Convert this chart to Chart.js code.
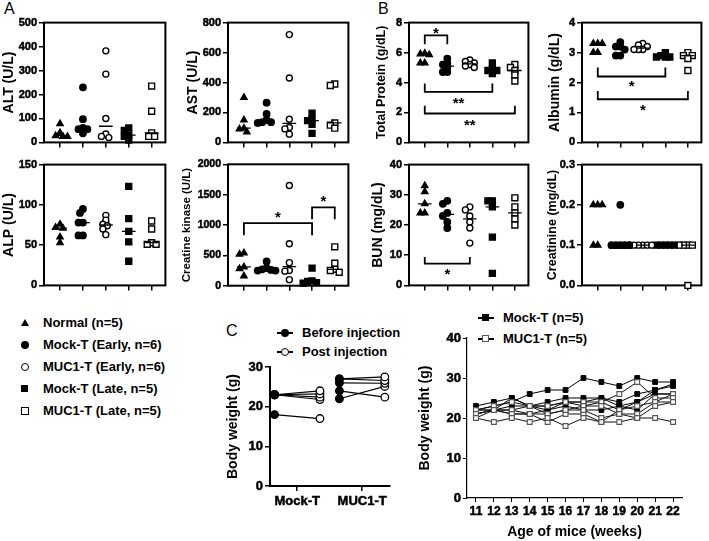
<!DOCTYPE html>
<html>
<head>
<meta charset="utf-8">
<script src="https://cdn.jsdelivr.net/npm/chart.js@4.4.1/dist/chart.umd.min.js"></script>
<style>
  body { margin: 0; background: #fff; font-family: 'Liberation Sans', Arial, sans-serif; }
  #page { position: relative; width: 709px; height: 541px; overflow: hidden; background: #fff; }
  canvas { position: absolute; }
  .tag { position: absolute; font-size: 16px; color: #000; }
  .leg { position: absolute; font-weight: bold; font-size: 13px; white-space: nowrap; line-height: 16px; color: #000; }
  .sym { position: absolute; box-sizing: border-box; }
  .ln { position: absolute; height: 2px; background: #000; }
</style>
</head>
<body>
<div id="page">
  <div class="tag" style="left:4px;top:0px">A</div>
  <div class="tag" style="left:378px;top:0px">B</div>
  <div class="tag" style="left:226px;top:322px">C</div>
</div>
<script>
Chart.defaults.font.family = 'Liberation Sans, Arial, sans-serif';
Chart.defaults.font.weight = 'bold';
Chart.defaults.color = '#000';

// groups used in panels A and B
const groups = ['Normal (n=5)', 'Mock-T (Early, n=6)', 'MUC1-T (Early, n=6)', 'Mock-T (Late, n=5)', 'MUC1-T (Late, n=5)'];

const alt = [[78, 40, 25, 25, 28], [230, 97, 60, 55, 55, 38], [382, 285, 100, 35, 20, 25], [60, 50, 30, 25, 10], [235, 130, 40, 25, 25]];
const ast = [[300, 150, 95, 90, 70], [265, 190, 150, 135, 135, 130], [720, 430, 155, 100, 90, 55], [195, 155, 145, 120, 60], [390, 380, 130, 115, 95]];
const totalProtein = [[5.95, 5.9, 5.85, 5.3, 5.3], [5.6, 5.3, 5.2, 5.0, 4.7, 4.7], [5.5, 5.4, 5.3, 5.2, 5.1, 5.0], [5.3, 4.9, 4.8, 4.8, 4.6], [5.2, 5.0, 4.8, 4.5, 4.1]];
const albumin = [[3.3, 3.3, 3.3, 3.0, 3.0], [3.35, 3.2, 3.2, 3.1, 2.9, 2.9], [3.3, 3.25, 3.2, 3.1, 3.1, 3.1], [3.0, 2.9, 2.85, 2.85, 2.85], [3.0, 2.9, 2.9, 2.8, 2.4]];
const alp = [[76, 72, 71, 60, 53], [95, 90, 78, 78, 62, 62], [87, 81, 76, 74, 70, 63], [123, 83, 67, 54, 30], [80, 70, 53, 51, 51]];
const creatineKinase = [[540, 520, 310, 280, 160], [400, 290, 270, 260, 250, 250], [1650, 690, 380, 250, 240, 100], [290, 80, 70, 50, 40], [640, 370, 270, 250, 220]];
const bun = [[33, 31, 27, 24, 24], [28, 27, 24, 23, 21, 19], [26, 25, 23, 21, 19, 14], [28, 28, 26, 16, 4], [29, 26, 24, 22, 20]];
const creatinine = [[0.2, 0.2, 0.2, 0.1, 0.1], [0.2, 0.1, 0.1, 0.1, 0.1, 0.1], [0.1, 0.1, 0.1, 0.1, 0.1, 0.1], [0.1, 0.1, 0.1, 0.1, 0.1], [0.1, 0.1, 0.1, 0.1, 0.0]];

// significance brackets: groups joined, bar level, end of the ticks, label and its level
const tpSig = [
  { from: 1, to: 2, y: 7.15, tick: 6.55, text: '*', ty: 7.45 },
  { from: 1, to: 4, y: 3.38, tick: 3.93, text: '**', ty: 2.75 },
  { from: 1, to: 5, y: 1.93, tick: 2.45, text: '**', ty: 1.3 }
];
const albSig = [
  { from: 1, to: 4, y: 2.2, tick: 2.5, text: '*', ty: 1.95 },
  { from: 1, to: 5, y: 1.44, tick: 1.72, text: '*', ty: 1.15 }
];
const ckSig = [
  { from: 1, to: 4, y: 1030, tick: 830, text: '*', ty: 1160 },
  { from: 4, to: 5, y: 1290, tick: 1095, text: '*', ty: 1430 }
];
const bunSig = [
  { from: 1, to: 3, y: 7.2, tick: 9.4, text: '*', ty: 4.4 }
];

// panel C, left: body weight before and after injection
const pairGroups = ['Mock-T', 'MUC1-T'];
const mockBefore = [23, 23, 23, 23, 18];
const mockAfter = [24, 23.2, 22.4, 21.8, 17];
const mucBefore = [27, 27, 26, 24, 22];
const mucAfter = [27.5, 26.6, 25.9, 22.4, 25.1];

// panel C, right: body weight by week
const weeks = [11, 12, 13, 14, 15, 16, 17, 18, 19, 20, 21, 22];
const mockWeight = [
  [22, 23, 24, 26, 27, 27, 30, 29, 28, 30, 29, 29],
  [23, 24, 25, 23, 24, 25, 25, 25, 24, 26, 27, 28],
  [22, 22, 25, 23, 23, 24, 24, 25, 23, 24, 27, 28.5],
  [21, 22, 23, 23, 22, 24, 23, 24, 22, 24, 26, 26],
  [21, 22, 22, 21, 22, 23, 22, 22, 23, 22, 26, 26]
];
const mucWeight = [
  [20, 19, 20, 19, 20, 18, 20, 19, 19, 20, 20, 19],
  [20, 22, 21, 21, 21, 22, 22, 20, 21, 20, 23, 24],
  [21, 22, 22, 23, 21, 22, 23, 23, 21, 21, 24, 24],
  [22, 23, 24, 23, 23, 24, 24, 24, 26, 29, 25, 25],
  [22, 22, 21, 21, 19, 21, 21, 19, 22, 23, 24, 26]
];

const page = document.getElementById('page');
const X_MIN = 0.3, X_MAX = 5.6;
const marks = [
  { style: 'triangle', fill: '#000', r: 3.6 },
  { style: 'circle', fill: '#000', r: 3.2 },
  { style: 'circle', fill: '#fff', r: 3.0 },
  { style: 'rect', fill: '#000', r: 4.2 },
  { style: 'rect', fill: '#fff', r: 4.2 }
];
const bold = (size) => ({ size: size, weight: 'bold' });
// a thin stroke makes the small bold tick labels as heavy as in the figure
const heavy = { textStrokeColor: '#000', textStrokeWidth: 0.5 };

function addCanvas(left, top, w, h) {
  const c = document.createElement('canvas');
  c.width = w; c.height = h;
  c.style.left = left + 'px'; c.style.top = top + 'px';
  c.style.width = w + 'px'; c.style.height = h + 'px';
  page.appendChild(c);
  return c.getContext('2d');
}

function median(vals) {
  const s = vals.slice().sort((a, b) => a - b);
  const n = s.length;
  return n % 2 ? s[(n - 1) / 2] : (s[n / 2 - 1] + s[n / 2]) / 2;
}

// simple beeswarm so equal values sit side by side
function swarm(vals, cat, pxX, pxY) {
  const order = vals.map((v, i) => i).sort((a, b) => vals[b] - vals[a]);
  const placed = [];
  const out = [];
  order.forEach(i => {
    const v = vals[i];
    for (let k = 0; k < 60; k++) {
      const off = (k % 2 ? -1 : 1) * Math.ceil(k / 2) * 1.5;
      const ok = placed.every(p => Math.hypot(p.dx - off, (p.v - v) * pxY) >= 4.5);
      if (ok) {
        placed.push({ dx: off, v: v });
        out[i] = { x: cat + off / pxX, y: v };
        break;
      }
    }
  });
  return out;
}

const tickGrid = { drawOnChartArea: false, tickLength: 5, color: '#000', lineWidth: 1.5 };

function groupPanel(p) {
  const T = 8, R = 4, B = 8;
  const w = p.box.r - p.box.l, h = p.box.b - p.box.t;
  const ctx = addCanvas(p.box.l - p.L, p.box.t - T, p.L + w + R, T + h + B);
  const pxX = w / (X_MAX - X_MIN), pxY = h / p.max;
  const datasets = [];
  p.values.forEach((vals, g) => {
    const m = marks[g];
    const md = median(vals);
    datasets.push({
      data: [{ x: g + 1 - 0.3, y: md }, { x: g + 1 + 0.3, y: md }],
      showLine: true, pointRadius: 0, borderColor: '#000', borderWidth: 1.3
    });
    datasets.push({
      data: swarm(vals, g + 1, pxX, pxY),
      pointStyle: m.style, pointRadius: m.r, pointBackgroundColor: m.fill,
      pointBorderColor: '#000', pointBorderWidth: 1.4, clip: false
    });
  });
  const sig = p.sig || [];
  sig.forEach(k => datasets.push({
    data: [{ x: k.from, y: k.tick }, { x: k.from, y: k.y }, { x: k.to, y: k.y }, { x: k.to, y: k.tick }],
    showLine: true, pointRadius: 0, borderColor: '#000', borderWidth: 1.8, clip: false
  }));
  new Chart(ctx, {
    type: 'scatter',
    data: { datasets: datasets },
    options: {
      responsive: false, animation: false,
      layout: { padding: { top: T, right: R, left: 0, bottom: 0 } },
      plugins: { legend: { display: false }, tooltip: { enabled: false } },
      scales: {
        x: {
          type: 'linear', min: X_MIN, max: X_MAX,
          afterBuildTicks: s => { s.ticks = [1, 2, 3, 4, 5].map(v => ({ value: v })); },
          afterFit: s => { s.height = B; },
          ticks: { display: false },
          grid: tickGrid,
          border: { display: false }
        },
        y: {
          min: 0, max: p.max,
          afterFit: s => { s.width = p.L; },
          ticks: Object.assign({ stepSize: p.step, font: bold(p.tickSize || 11), padding: 2, color: '#000',
                   callback: v => p.fmt ? v.toFixed(p.fmt) : v }, heavy),
          title: { display: true, text: p.title, font: bold(p.titleSize), padding: 0, color: '#000' },
          grid: tickGrid,
          border: { display: false }
        }
      }
    },
    plugins: [{
      id: 'frame',
      beforeDatasetsDraw(ch) {
        const a = ch.chartArea, c = ch.ctx;
        c.save(); c.strokeStyle = '#000'; c.lineWidth = 2;
        c.strokeRect(a.left, a.top, a.right - a.left, a.bottom - a.top);
        c.restore();
      },
      afterDatasetsDraw(ch) {
        const c = ch.ctx;
        c.save(); c.fillStyle = '#000'; c.font = 'bold 15px Liberation Sans, Arial, sans-serif';
        c.textAlign = 'center'; c.textBaseline = 'middle';
        sig.forEach(k => {
          c.fillText(k.text, ch.scales.x.getPixelForValue((k.from + k.to) / 2), ch.scales.y.getPixelForValue(k.ty) + 3);
        });
        c.restore();
      }
    }]
  });
}

groupPanel({ values: alt, title: 'ALT (U/L)', max: 500, step: 100, box: { l: 44, r: 167, t: 22, b: 143 }, L: 43, titleSize: 14 });
groupPanel({ values: ast, title: 'AST (U/L)', max: 800, step: 200, box: { l: 228, r: 350, t: 22, b: 143 }, L: 43, titleSize: 14 });
groupPanel({ values: totalProtein, title: 'Total Protein (g/dL)', max: 8, step: 2, box: { l: 409, r: 530, t: 22, b: 143 }, L: 35, titleSize: 12.5, sig: tpSig });
groupPanel({ values: albumin, title: 'Albumin (g/dL)', max: 4, step: 1, box: { l: 582, r: 703, t: 22, b: 143 }, L: 35, titleSize: 14, sig: albSig });
groupPanel({ values: alp, title: 'ALP (U/L)', max: 150, step: 50, box: { l: 44, r: 167, t: 164, b: 286 }, L: 43, titleSize: 14 });
groupPanel({ values: creatineKinase, title: 'Creatine kinase (U/L)', max: 2000, step: 500, box: { l: 228, r: 350, t: 164, b: 286 }, L: 48, titleSize: 11.5, tickSize: 10.5, sig: ckSig });
groupPanel({ values: bun, title: 'BUN (mg/dL)', max: 40, step: 10, box: { l: 409, r: 530, t: 164, b: 286 }, L: 39, titleSize: 14, sig: bunSig });
groupPanel({ values: creatinine, title: 'Creatinine (mg/dL)', max: 0.3, step: 0.1, box: { l: 582, r: 703, t: 164, b: 286 }, L: 37, titleSize: 12.5, fmt: 1 });

// legend for panels A and B
const legSyms = [
  'width:0;height:0;border-left:4px solid transparent;border-right:4px solid transparent;border-bottom:7px solid #000;',
  'width:8px;height:8px;border-radius:50%;background:#000;',
  'width:8px;height:8px;border-radius:50%;border:1.8px solid #000;background:#fff;',
  'width:7px;height:7px;background:#000;',
  'width:8px;height:8px;border:1.8px solid #000;background:#fff;'
];
groups.forEach((g, i) => {
  const cy = 323 + i * 22;
  const s = document.createElement('div');
  s.className = 'sym';
  s.style.cssText = legSyms[i] + 'left:21px;top:' + (cy - 4) + 'px;';
  page.appendChild(s);
  const t = document.createElement('div');
  t.className = 'leg';
  t.style.left = '43px'; t.style.top = (cy - 8) + 'px';
  t.textContent = g;
  page.appendChild(t);
});

function lineLegend(x, cy, label, markerCss) {
  const l = document.createElement('div');
  l.className = 'ln';
  l.style.left = x + 'px'; l.style.top = (cy - 1) + 'px'; l.style.width = '16px';
  page.appendChild(l);
  const s = document.createElement('div');
  s.className = 'sym';
  s.style.cssText = markerCss + 'left:' + (x + 4) + 'px;top:' + (cy - 4) + 'px;';
  page.appendChild(s);
  const t = document.createElement('div');
  t.className = 'leg';
  t.style.left = (x + 25) + 'px'; t.style.top = (cy - 8) + 'px';
  t.textContent = label;
  page.appendChild(t);
}
lineLegend(277, 333, 'Before injection', 'width:8px;height:8px;border-radius:50%;background:#000;');
lineLegend(277, 352, 'Post injection', 'width:8px;height:8px;border-radius:50%;border:1.5px solid #000;background:#fff;');
lineLegend(478, 318, 'Mock-T (n=5)', 'width:7px;height:7px;background:#000;');
lineLegend(478, 339, 'MUC1-T (n=5)', 'width:7px;height:7px;border:1.5px solid #555;background:#fff;');

// panel C left: paired body weight
(function () {
  const box = { l: 270, r: 390, t: 367, b: 486 };
  const L = 45, T = 10, R = 24, B = 32;
  const ctx = addCanvas(box.l - L, box.t - T, L + (box.r - box.l) + R, T + (box.b - box.t) + B);
  const datasets = [];
  [[mockBefore, mockAfter], [mucBefore, mucAfter]].forEach((pair, g) => {
    pair[0].forEach((v, i) => datasets.push({
      data: [{ x: g + 1 - 0.35, y: v }, { x: g + 1 + 0.35, y: pair[1][i] }],
      showLine: true, borderColor: '#000', borderWidth: 1.2,
      pointRadius: 3.8, pointBorderColor: '#000', pointBorderWidth: 1.3,
      pointBackgroundColor: ['#000', '#fff'], clip: false
    }));
  });
  new Chart(ctx, {
    type: 'scatter',
    data: { datasets: datasets },
    options: {
      responsive: false, animation: false,
      layout: { padding: { top: T, right: R, left: 0, bottom: 0 } },
      plugins: { legend: { display: false }, tooltip: { enabled: false } },
      scales: {
        x: {
          type: 'linear', min: 0.58, max: 2.43,
          afterBuildTicks: s => { s.ticks = [1, 2].map(v => ({ value: v })); },
          afterFit: s => { s.height = B; },
          ticks: Object.assign({ font: bold(13), color: '#000', padding: 3, autoSkip: false, maxRotation: 0,
                   callback: v => pairGroups[v - 1] }, heavy),
          grid: tickGrid,
          border: { display: true, color: '#000', width: 2 }
        },
        y: {
          min: 0, max: 30,
          afterFit: s => { s.width = L; },
          ticks: Object.assign({ stepSize: 10, font: bold(13), color: '#000', padding: 2 }, heavy),
          title: { display: true, text: 'Body weight (g)', font: bold(14), padding: 0, color: '#000' },
          grid: tickGrid,
          border: { display: true, color: '#000', width: 2 }
        }
      }
    }
  });
})();

// panel C right: body weight by age
(function () {
  const box = { l: 467, r: 682, t: 338, b: 498 };
  const L = 50, T = 10, R = 20, B = 44;
  const ctx = addCanvas(box.l - L, box.t - T, L + (box.r - box.l) + R, T + (box.b - box.t) + B);
  const datasets = [];
  mucWeight.forEach(s => datasets.push({
    data: weeks.map((w, i) => ({ x: w, y: s[i] })),
    showLine: true, borderColor: '#111', borderWidth: 1,
    pointStyle: 'rect', pointRadius: 3.4, pointBackgroundColor: '#fff',
    pointBorderColor: '#555', pointBorderWidth: 1.1
  }));
  mockWeight.forEach(s => datasets.push({
    data: weeks.map((w, i) => ({ x: w, y: s[i] })),
    showLine: true, borderColor: '#000', borderWidth: 1,
    pointStyle: 'rect', pointRadius: 3.4, pointBackgroundColor: '#000',
    pointBorderColor: '#000', pointBorderWidth: 1
  }));
  new Chart(ctx, {
    type: 'scatter',
    data: { datasets: datasets },
    options: {
      responsive: false, animation: false,
      layout: { padding: { top: T, right: R, left: 0, bottom: 0 } },
      plugins: { legend: { display: false }, tooltip: { enabled: false } },
      scales: {
        x: {
          type: 'linear', min: 10.5, max: 22.5,
          afterBuildTicks: s => { s.ticks = weeks.map(v => ({ value: v })); },
          afterFit: s => { s.height = B; },
          ticks: Object.assign({ font: bold(12), color: '#000', padding: 2, autoSkip: false, maxRotation: 0, minRotation: 0 }, heavy),
          title: { display: true, text: 'Age of mice (weeks)', font: bold(14), padding: { top: 0, bottom: 1 }, color: '#000' },
          grid: { drawOnChartArea: false, tickLength: 4, color: '#000', lineWidth: 1 },
          border: { display: true, color: '#000', width: 1.2 }
        },
        y: {
          min: 0, max: 40,
          afterFit: s => { s.width = L; },
          ticks: Object.assign({ stepSize: 10, font: bold(13), color: '#000', padding: 2 }, heavy),
          title: { display: true, text: 'Body weight (g)', font: bold(14), padding: 0, color: '#000' },
          grid: { drawOnChartArea: false, tickLength: 4, color: '#000', lineWidth: 1 },
          border: { display: true, color: '#000', width: 1.2 }
        }
      }
    }
  });
})();
</script>
</body>
</html>
